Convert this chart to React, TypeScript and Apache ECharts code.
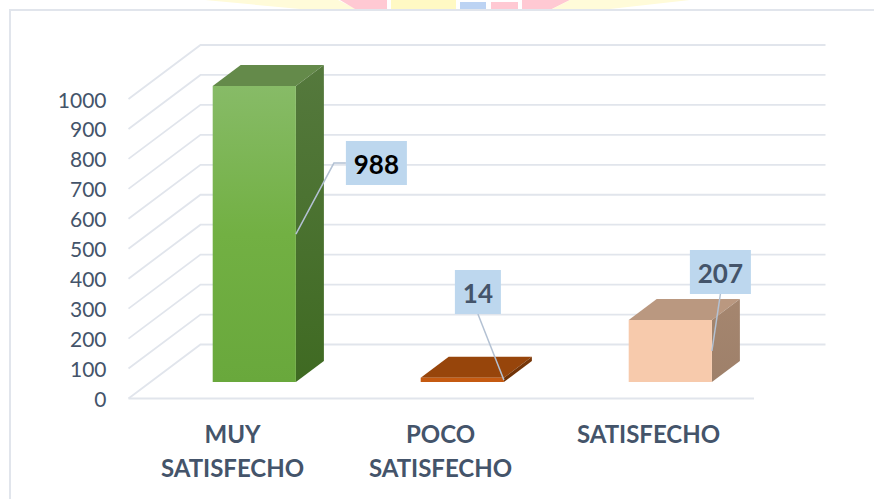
import React, { useEffect, useRef } from "react";
import * as echarts from "echarts";

const categories = ["MUY\nSATISFECHO", "POCO\nSATISFECHO", "SATISFECHO"];
const values = [988, 14, 207];
const yTicks = [0, 100, 200, 300, 400, 500, 600, 700, 800, 900, 1000];

const frontTop = ["#87bb67", "#c55a11", "#f7caac"];
const frontMid = ["#72b043", "#c55a11", "#f7caac"];
const frontBottom = ["#69a83c", "#c55a11", "#f7caac"];
const topFace = ["#648a4a", "#97450b", "#ba9880"];
const sideTop = ["#55793d", "#7a3808", "#a5866f"];
const sideBottom = ["#3f6a22", "#6b3007", "#9e806a"];
const labelText = ["#000000", "#44546a", "#44546a"];

// Layout of the pseudo-3D drawing, in pixels
const GRID_LEFT = 128.5;
const GRID_WIDTH = 624;
const FLOOR_END = 754;
const WALL_END = 825.5;
const WALL_DX = 72;
const WALL_DY = 54;
const BAR_SHIFT_X = 21.8;
const BAR_SHIFT_Y = 16.5;
const BAR_DEPTH_X = 28;
const BAR_DEPTH_Y = 21;
const BAR_WIDTH_RATIO = 0.4;
const boxOffsets = [
  [80.5, -71],
  [-26, -88],
  [8.5, -79],
];
const boxSizes = [
  [61, 44],
  [46, 44],
  [61, 44],
];
const elbows = [true, false, false];

const GRID_COLOR = "#e1e5ec";
const FONT = "Lato";

const renderWall = (params: any, api: any) => {
  const cs = params.coordSys;
  const v = api.value(1);
  const y = api.coord([0, v])[1];
  const x0 = cs.x;
  const x1 = cs.x + WALL_DX;
  const lineStyle = { stroke: GRID_COLOR, lineWidth: 1.8, fill: "none" };
  const wall = {
    type: "polyline",
    shape: { points: [[x0, y], [x1, y - WALL_DY], [WALL_END, y - WALL_DY]] },
    style: lineStyle,
  };
  if (v !== 0) return wall;
  return {
    type: "group",
    children: [
      wall,
      { type: "polyline", shape: { points: [[x0, y], [FLOOR_END, y]] }, style: lineStyle },
    ],
  };
};

const renderBar = (params: any, api: any) => {
  const i = params.dataIndex;
  const val = api.value(1);
  const top = api.coord([i, val]);
  const base = api.coord([i, 0]);
  const w = api.size([1, 0])[0] * BAR_WIDTH_RATIO;
  const l = top[0] + BAR_SHIFT_X - w / 2;
  const r = l + w;
  const yt = top[1] - BAR_SHIFT_Y;
  const yb = base[1] - BAR_SHIFT_Y;
  const midY = (yt + yb) / 2;
  const bx = boxOffsets[i][0] + r;
  const by = boxOffsets[i][1] + midY;
  const [bw, bh] = boxSizes[i];
  const leader = elbows[i]
    ? [[r, midY], [bx - bw / 2 - 12, by], [bx - bw / 2, by]]
    : [[r, midY], [bx, by + bh / 2]];
  return {
    type: "group",
    children: [
      {
        type: "polygon",
        shape: { points: [[l, yt], [r, yt], [r + BAR_DEPTH_X, yt - BAR_DEPTH_Y], [l + BAR_DEPTH_X, yt - BAR_DEPTH_Y]] },
        style: { fill: topFace[i] },
      },
      {
        type: "polygon",
        shape: { points: [[r, yt], [r + BAR_DEPTH_X, yt - BAR_DEPTH_Y], [r + BAR_DEPTH_X, yb - BAR_DEPTH_Y], [r, yb]] },
        style: {
          fill: new echarts.graphic.LinearGradient(0, 0, 0, 1, [
            { offset: 0, color: sideTop[i] },
            { offset: 1, color: sideBottom[i] },
          ]),
        },
      },
      {
        type: "rect",
        shape: { x: l, y: yt, width: w, height: yb - yt },
        style: {
          fill: new echarts.graphic.LinearGradient(0, 0, 0, 1, [
            { offset: 0, color: frontTop[i] },
            { offset: 0.5, color: frontMid[i] },
            { offset: 1, color: frontBottom[i] },
          ]),
        },
      },
      {
        type: "polyline",
        shape: { points: leader },
        style: { stroke: "#b3c1d3", lineWidth: 1.5, fill: "none" },
      },
      {
        type: "rect",
        shape: { x: bx - bw / 2, y: by - bh / 2, width: bw, height: bh },
        style: { fill: "#bdd7ee" },
      },
      {
        type: "text",
        style: {
          x: bx,
          y: by + 1,
          text: String(val),
          fill: labelText[i],
          font: `bold 26px ${FONT}`,
          align: "center",
          verticalAlign: "middle",
        },
      },
    ],
  };
};

const decoration = (points: number[][], fill: string) => ({
  type: "polygon",
  silent: true,
  shape: { points },
  style: { fill },
});

export default function App() {
  const ref = useRef<HTMLDivElement>(null);
  useEffect(() => {
    const chart = echarts.init(ref.current!, undefined, { renderer: "svg" });
    chart.setOption({
      animation: false,
      backgroundColor: "#ffffff",
      grid: { left: GRID_LEFT, top: 99, width: GRID_WIDTH, height: 299.5, containLabel: false },
      xAxis: {
        type: "category",
        data: categories,
        axisLine: { show: false },
        axisTick: { show: false },
        axisLabel: {
          color: "#44546a",
          fontFamily: FONT,
          fontWeight: "bold",
          fontSize: 24,
          lineHeight: 34,
          margin: 18,
          interval: 0,
        },
      },
      yAxis: {
        type: "value",
        min: 0,
        max: 1000,
        interval: 100,
        splitLine: { show: false },
        axisLine: { show: false },
        axisTick: { show: false },
        axisLabel: {
          color: "#44546a",
          fontFamily: FONT,
          fontSize: 21,
          margin: 22,
          formatter: (v: number) => String(v),
        },
      },
      graphic: [
        decoration([[205, 0], [338, 0], [356, 9], [300, 9]], "#fffbd9"),
        decoration([[340, 0], [387, 0], [387, 9], [355, 9]], "#ffc9d3"),
        decoration([[391, 0], [456, 0], [456, 9], [391, 9]], "#fff9c4"),
        decoration([[460, 2], [486, 2], [486, 9], [460, 9]], "#bcd3f3"),
        decoration([[491, 2], [518, 2], [518, 9], [491, 9]], "#ffc9d3"),
        decoration([[522, 0], [570, 0], [552, 9], [522, 9]], "#ffc9d3"),
        decoration([[570, 0], [690, 0], [610, 9], [552, 9]], "#fffbd9"),
        {
          type: "rect",
          silent: true,
          shape: { x: 10, y: 10, width: 880, height: 510 },
          style: { fill: "none", stroke: "#e1e5ec", lineWidth: 2 },
        },
      ],
      series: [
        {
          type: "custom",
          z: 1,
          silent: true,
          renderItem: renderWall,
          encode: { x: 0, y: 1 },
          data: yTicks.map((t) => [0, t]),
        },
        {
          type: "custom",
          z: 2,
          silent: true,
          renderItem: renderBar,
          encode: { x: 0, y: 1 },
          data: values.map((v, i) => [i, v]),
        },
      ],
    });
    return () => chart.dispose();
  }, []);
  return <div ref={ref} style={{ position: "absolute", left: 0, top: 0, width: 874, height: 499 }} />;
}
